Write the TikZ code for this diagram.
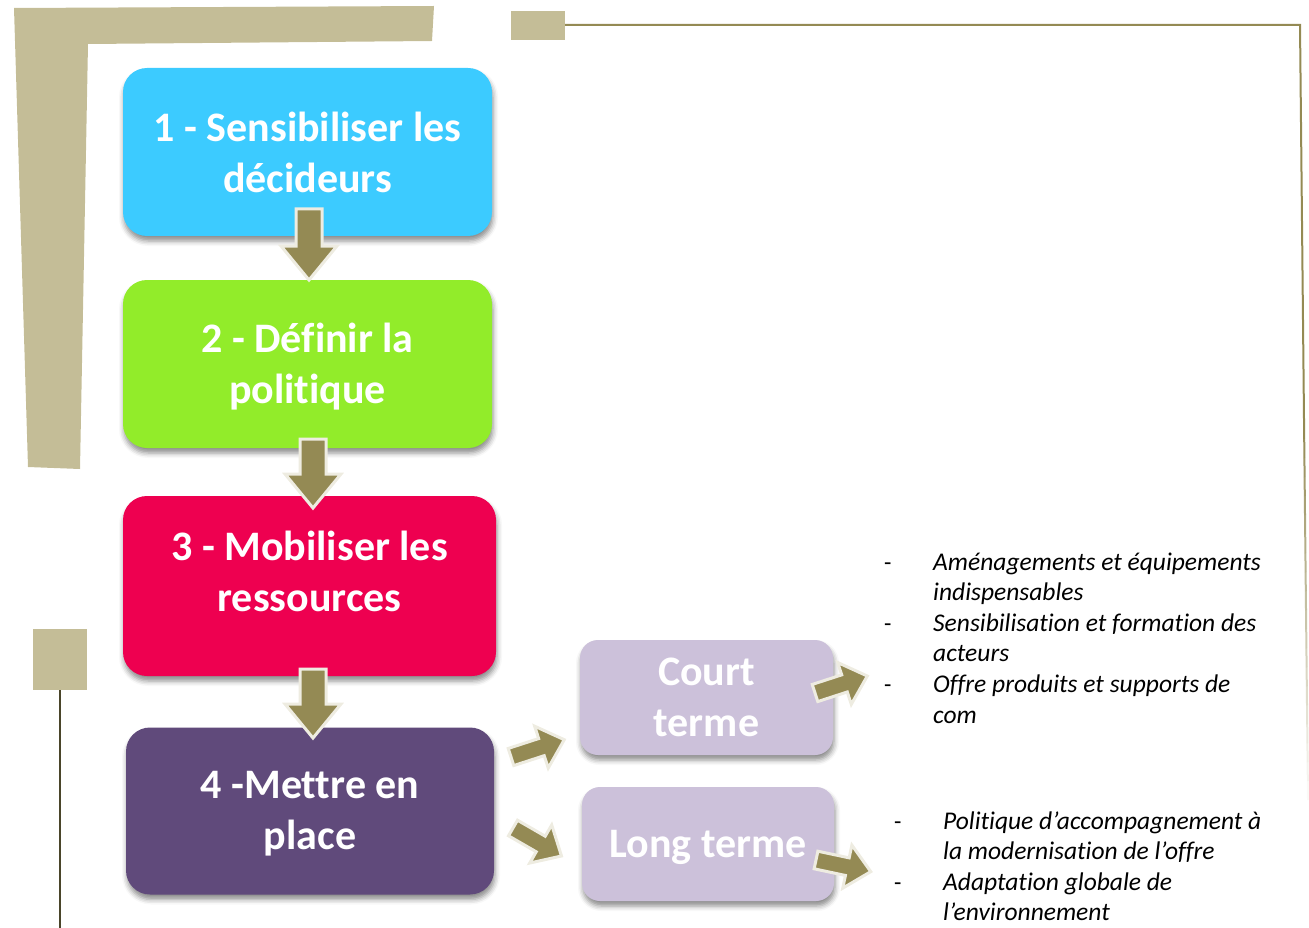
\documentclass[tikz,border=0pt]{standalone}
\usepackage{fontspec}
\setmainfont{Carlito}[RawFeature=-liga, RawFeature=-clig, RawFeature=-calt, RawFeature=-dlig]
\usetikzlibrary{shadows.blur}
\definecolor{tan}{HTML}{C4BD97}
\definecolor{tanline}{HTML}{948A54}
\definecolor{darkline}{HTML}{4A452A}
\definecolor{arrfill}{HTML}{948A54}
\definecolor{arredge}{HTML}{EEECE1}
\definecolor{cyanbox}{HTML}{3CCBFF}
\definecolor{greenbox}{HTML}{92EC2A}
\definecolor{redbox}{HTML}{EE0050}
\definecolor{purplebox}{HTML}{604A7B}
\definecolor{lilacbox}{HTML}{CCC1DA}

% block arrow: tail x, tail y, angle, length, shaft half width, head half width, head length
\newcommand{\blockarr}[7]{%
  \begin{scope}[shift={(#1,#2)}, rotate=#3]
    \filldraw[fill=arrfill, draw=arredge, line width=3pt, line join=miter]
      (0,-#5) -- ({#4-#7},-#5) -- ({#4-#7},-#6) -- (#4,0) -- ({#4-#7},#6)
      -- ({#4-#7},#5) -- (0,#5) -- cycle;
  \end{scope}}

\begin{document}
\begin{tikzpicture}[x=1pt,y=-1pt,
  stepbox/.style={rounded corners=24pt, align=center, text=white, inner sep=0pt,
    font=\fontsize{42}{51}\selectfont\bfseries,
    blur shadow={shadow xshift=1pt, shadow yshift=-5pt, shadow blur radius=5pt, shadow opacity=45}},
  steptext/.style={align=center, text=white, inner sep=0pt, font=\fontsize{42}{51}\selectfont\bfseries},
  listtext/.style={anchor=base west, inner sep=0pt, font=\fontsize{25.5}{30}\selectfont\itshape},
  dashtext/.style={anchor=base west, inner sep=0pt, font=\fontsize{24}{30}\selectfont}]
\useasboundingbox (0,0) rectangle (1309,928);

% frame ornaments
\fill[tan] (14,8) -- (434,6) -- (432,41) -- (88,44) -- (80,469) -- (28,467) -- cycle;
\fill[tan] (511,11) rectangle (565,40);
\draw[tanline, line width=2pt] (565,25) -- (1300,25) -- (1304,420);
\foreach \i in {0,...,19}{
  \pgfmathsetmacro\op{1-\i/20}
  \draw[tanline, line width=2pt, opacity=\op] ({1304+\i*0.2},{420+\i*19}) -- ({1304+(\i+1)*0.2},{420+(\i+1)*19});
}
\fill[tan] (33,629) rectangle (87,690);
\draw[darkline, line width=1.5pt] (60,690) -- (60,928);

% steps
\node[stepbox, fill=cyanbox, minimum width=369pt, minimum height=168pt] (b1) at (307.5,152) {1 - Sensibiliser les\\décideurs};
\node[stepbox, fill=greenbox, minimum width=369pt, minimum height=168pt] (b2) at (307.5,364) {};
\node[steptext] (b2t) at (307.5,367) {2 - Définir la\\politique};
\node[stepbox, fill=redbox, minimum width=373pt, minimum height=180pt] (b3) at (309.5,586) {};
\node[steptext] (b3t) at (309.5,571) {3 - Mobiliser les\\ressources};
\node[stepbox, fill=purplebox, minimum width=368pt, minimum height=167pt] (b4) at (310,811) {};
\node[steptext] (b4t) at (310,814) {4 -Mettre en\\place};
\node[stepbox, fill=lilacbox, minimum width=253pt, minimum height=115pt, rounded corners=18pt] (court) at (706.5,697.5) {Court\\terme};
\node[stepbox, fill=lilacbox, minimum width=252pt, minimum height=114pt, rounded corners=18pt] (long) at (708,844) {};
\node[steptext] (longt) at (708,847) {Long terme};

% block arrows
\blockarr{309}{209}{-90}{71}{13}{28}{34}
\blockarr{313}{439}{-90}{69}{13}{28}{34}
\blockarr{313}{669}{-90}{69}{13}{28}{34}
\blockarr{511}{757}{18}{56}{9}{22}{24}
\blockarr{513}{828}{-30}{56}{9}{22}{24}
\blockarr{815}{693}{18}{55}{9}{22}{24}
\blockarr{816}{860}{-12}{56}{9}{22}{24}

% short-term actions
\node[dashtext] (d1) at (884,570) {-};
\node[listtext] (t1) at (933,570) {Aménagements et équipements};
\node[listtext] (t2) at (933,600.6) {indispensables};
\node[dashtext] (d2) at (884,631.2) {-};
\node[listtext] (t3) at (933,631.2) {Sensibilisation et formation des};
\node[listtext] (t4) at (933,661.8) {acteurs};
\node[dashtext] (d3) at (884,692.4) {-};
\node[listtext] (t5) at (933,692.4) {Offre produits et supports de};
\node[listtext] (t6) at (933,723) {com};

% long-term actions
\node[dashtext] (d4) at (894,829) {-};
\node[listtext] (u1) at (943,829) {Politique d’accompagnement à};
\node[listtext] (u2) at (943,859.6) {la modernisation de l’offre};
\node[dashtext] (d5) at (894,890.2) {-};
\node[listtext] (u3) at (943,890.2) {Adaptation globale de};
\node[listtext] (u4) at (943,920.8) {l’environnement};
\end{tikzpicture}
\end{document}
